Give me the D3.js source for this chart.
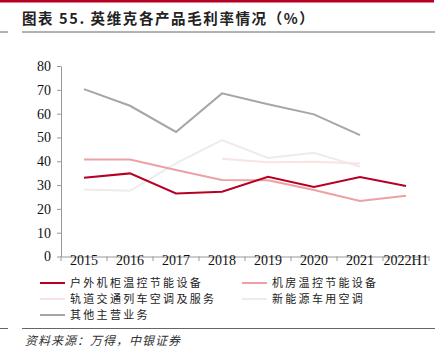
<!DOCTYPE html>
<html><head><meta charset="utf-8">
<script src="https://cdn.jsdelivr.net/npm/d3@7"></script>
<style>body{margin:0;background:#fff;}svg{display:block;}</style>
</head><body>
<script>
const categories = ["2015","2016","2017","2018","2019","2020","2021","2022H1"];
const seriesNames = ["户外机柜温控节能设备","机房温控节能设备","轨道交通列车空调及服务","新能源车用空调","其他主营业务"];
const outdoor = [33.1,34.9,26.5,27.2,33.5,29.2,33.4,29.6];
const datacenter = [40.7,40.7,36.3,32.1,32.0,27.9,23.3,25.5];
const rail = [null,null,null,41.1,39.6,39.8,39.1,null];
const ev = [28.1,27.6,39.1,48.9,41.4,43.6,37.7,null];
const other = [70.3,63.3,52.3,68.5,63.9,59.7,51.0,null];
const yTicks = [0,10,20,30,40,50,60,70,80];
const colors = ["#b80025","#eda1a2","#fae3e3","#ececec","#a6a6a6"];
const seriesData = [outdoor, datacenter, rail, ev, other];

const W=447,H=357;
const svg=d3.select("body").append("svg").attr("width",W).attr("height",H);
const serif="'Liberation Serif','Times New Roman',serif";
const cjk="'Noto Sans CJK SC',sans-serif";

// header
svg.append("rect").attr("x",0).attr("y",0).attr("width",434).attr("height",2.5).attr("fill","#b80025");
svg.append("text").attr("x",22).attr("y",24).attr("font-family",cjk).attr("font-weight","bold")
  .attr("font-size",14.5).attr("letter-spacing",1.6).attr("fill","#222").text("图表 55. 英维克各产品毛利率情况（%）");
svg.append("line").attr("x1",22).attr("x2",435).attr("y1",32).attr("y2",32).attr("stroke","#666").attr("stroke-width",1);
svg.append("line").attr("x1",0).attr("x2",8).attr("y1",32).attr("y2",32).attr("stroke","#666").attr("stroke-width",1);

const x=d3.scaleBand().domain(categories).range([61,429]);
const y=d3.scaleLinear().domain([0,80]).range([256.5,66]);

const yAxis=svg.append("g").attr("transform","translate(61,0)")
  .call(d3.axisLeft(y).tickValues(yTicks).tickSize(4).tickSizeOuter(0));
yAxis.select(".domain").attr("stroke","#999");
yAxis.selectAll(".tick line").attr("stroke","#999");
yAxis.selectAll("text").attr("font-family",serif).attr("font-size",14).attr("fill","#111").attr("dx",-3);

const xAxis=svg.append("g").attr("transform","translate(0,256.5)")
  .call(d3.axisBottom(x).tickSize(0).tickSizeOuter(0));
xAxis.select(".domain").attr("stroke","#999");
xAxis.selectAll("text").attr("font-family",serif).attr("font-size",14).attr("fill","#111").attr("dy",5);
// boundary ticks
const bounds=categories.map(c=>x(c)).concat([x.range()[1]]);
svg.append("g").selectAll("line").data(bounds).join("line")
  .attr("x1",d=>d).attr("x2",d=>d).attr("y1",256.5).attr("y2",261).attr("stroke","#999");

const line=d3.line().defined(d=>d.v!=null).x(d=>x(d.c)+x.bandwidth()/2).y(d=>y(d.v));
const order=[3,2,4,1,0];
order.forEach(i=>{
  const pts=categories.map((c,j)=>({c,v:seriesData[i][j]}));
  svg.append("path").attr("d",line(pts)).attr("fill","none").attr("stroke",colors[i]).attr("stroke-width",2);
});

// legend
const leg=[{i:0,x:40,y:283},{i:1,x:242,y:283},{i:2,x:40,y:299},{i:3,x:242,y:299},{i:4,x:40,y:315}];
leg.forEach(l=>{
  svg.append("line").attr("x1",l.x).attr("x2",l.x+25).attr("y1",l.y).attr("y2",l.y).attr("stroke",colors[l.i]).attr("stroke-width",2);
  svg.append("text").attr("x",l.x+30).attr("y",l.y+4).attr("font-family",cjk).attr("font-size",11)
    .attr("letter-spacing",2.3).attr("fill","#222").text(seriesNames[l.i]);
});

// footer
svg.append("line").attr("x1",22).attr("x2",435).attr("y1",328.5).attr("y2",328.5).attr("stroke","#666").attr("stroke-width",1);
svg.append("line").attr("x1",0).attr("x2",8).attr("y1",328.5).attr("y2",328.5).attr("stroke","#666").attr("stroke-width",1);
svg.append("text").attr("x",25).attr("y",345).attr("font-family",cjk).attr("font-size",12).attr("font-style","italic")
  .attr("letter-spacing",1).attr("fill","#333").text("资料来源：万得，中银证券");
</script>
</body></html>
